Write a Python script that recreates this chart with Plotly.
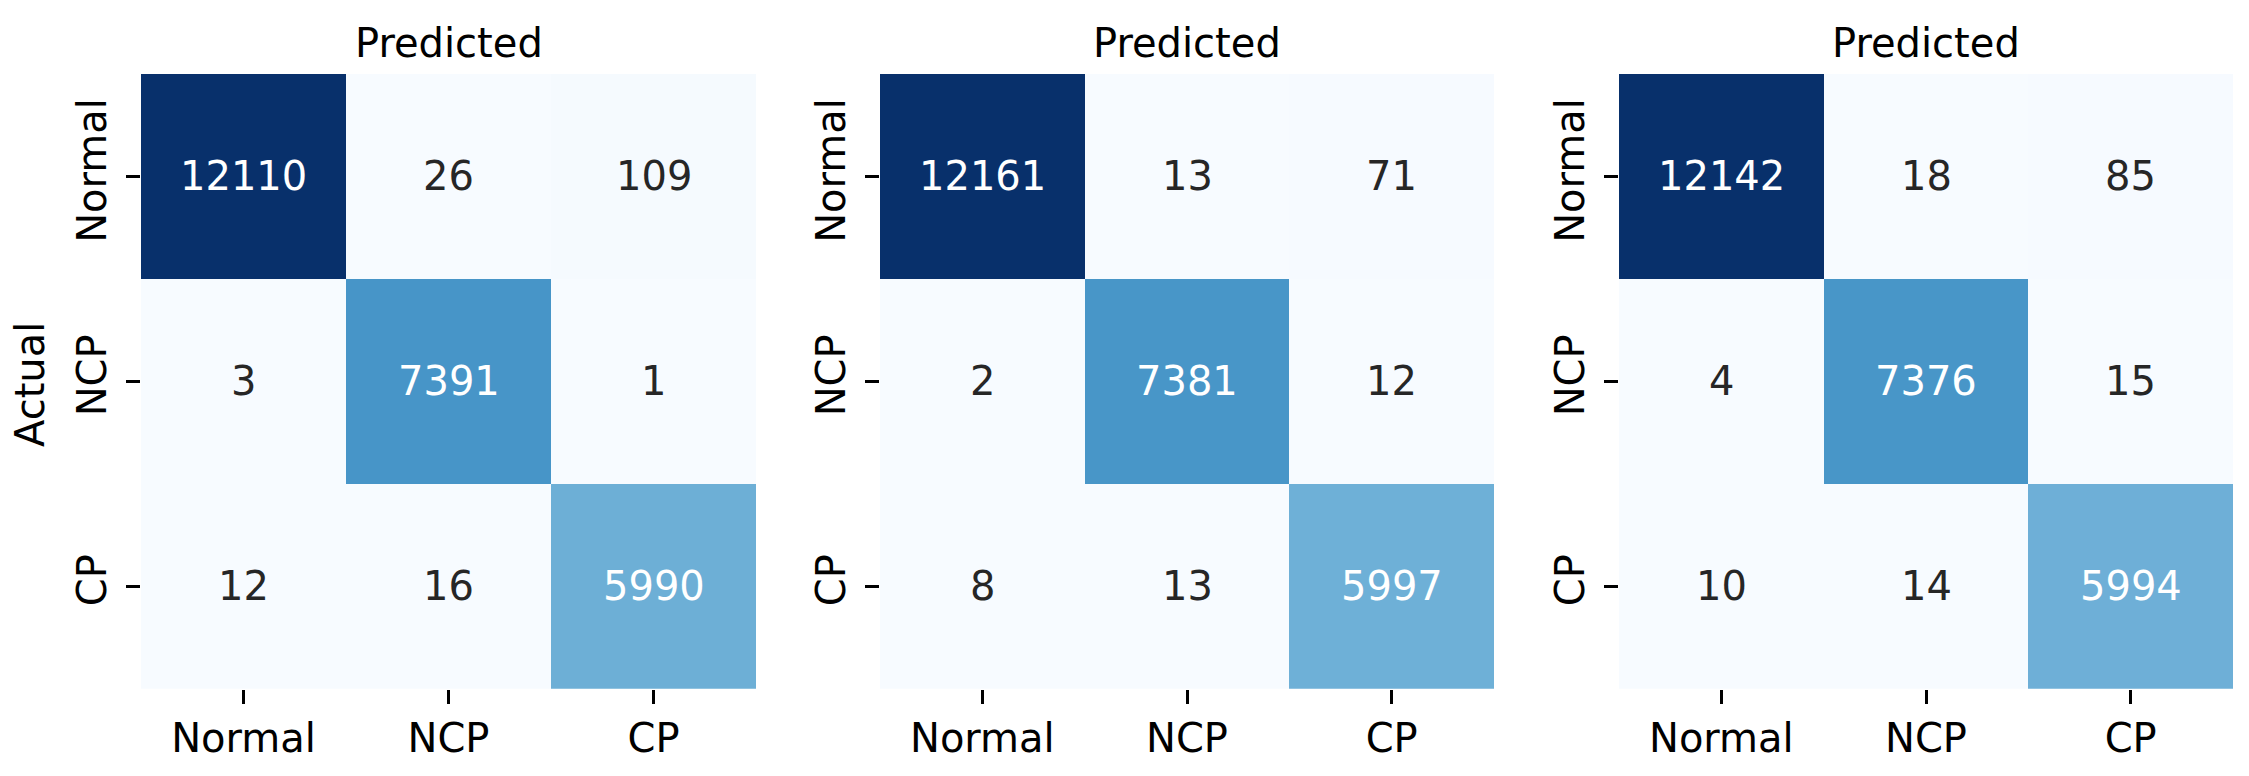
import plotly.graph_objects as go
from plotly.colors import sample_colorscale, sequential, unlabel_rgb

labels = ["Normal", "NCP", "CP"]

cm_1 = [[12110, 26, 109], [3, 7391, 1], [12, 16, 5990]]
cm_2 = [[12161, 13, 71], [2, 7381, 12], [8, 13, 5997]]
cm_3 = [[12142, 18, 85], [4, 7376, 15], [10, 14, 5994]]
matrices = [cm_1, cm_2, cm_3]

W, H = 2249, 776
FONT = "DejaVu Sans"
BLUES = sequential.Blues

# panel boxes in pixels (left, right), shared top/bottom
x_boxes = [(141, 756), (880, 1494), (1619, 2233)]
top_px, bottom_px = 74, 688.7


def _text_color(rgb: str) -> str:
    # seaborn style: dark text on light cells, white on dark cells
    r, g, b = [c / 255 for c in unlabel_rgb(rgb)]
    lin = [c / 12.92 if c <= 0.03928 else ((c + 0.055) / 1.055) ** 2.4 for c in (r, g, b)]
    lum = 0.2126 * lin[0] + 0.7152 * lin[1] + 0.0722 * lin[2]
    return "#262626" if lum > 0.408 else "#ffffff"


fig = go.Figure()
annotations = []
layout_axes = {}

for i, cm in enumerate(matrices):
    n = i + 1
    xa = "x" if n == 1 else f"x{n}"
    ya = "y" if n == 1 else f"y{n}"
    fig.add_trace(go.Heatmap(
        z=cm, x=labels, y=labels, xaxis=xa, yaxis=ya,
        colorscale="Blues", showscale=False, xgap=0, ygap=0,
        hoverinfo="skip",
    ))
    zmin = min(min(r) for r in cm)
    zmax = max(max(r) for r in cm)
    for r, row in enumerate(cm):
        for c, v in enumerate(row):
            t = (v - zmin) / (zmax - zmin)
            col = sample_colorscale(BLUES, [t])[0]
            annotations.append(dict(
                x=labels[c], y=labels[r], xref=xa, yref=ya, text=str(v),
                showarrow=False, font=dict(family=FONT, size=40, color=_text_color(col)),
            ))
    x0, x1 = x_boxes[i]
    key = "" if n == 1 else str(n)
    layout_axes[f"xaxis{key}"] = dict(
        domain=[x0 / W, x1 / W], anchor=ya, showgrid=False, zeroline=False,
        ticks="outside", ticklen=14, tickwidth=2.5, tickcolor="black",
        tickfont=dict(family=FONT, size=40, color="black"), showline=False,
        ticklabelstandoff=0,
    )
    layout_axes[f"yaxis{key}"] = dict(
        domain=[1 - bottom_px / H, 1 - top_px / H], anchor=xa,
        autorange="reversed", showgrid=False, zeroline=False,
        ticks="outside", ticklen=14, tickwidth=2.5, tickcolor="black",
        tickangle=-90, tickfont=dict(family=FONT, size=40, color="black"),
        showline=False, ticklabelstandoff=4,
    )
    annotations.append(dict(
        x=0.5, y=1 - 43 / H, xref=f"{xa} domain", yref="paper", text="Predicted",
        showarrow=False, yanchor="middle",
        font=dict(family=FONT, size=40, color="black"),
    ))

annotations.append(dict(
    x=30 / W, y=1 - 385 / H, xref="paper", yref="paper", text="Actual",
    textangle=-90, showarrow=False, xanchor="center", yanchor="middle",
    font=dict(family=FONT, size=40, color="black"),
))

fig.update_layout(
    width=W, height=H,
    margin=dict(l=0, r=0, t=0, b=0),
    plot_bgcolor="white", paper_bgcolor="white",
    annotations=annotations,
    **layout_axes,
)

fig.write_html(
    "out.html",
    config={"displayModeBar": False},
    post_script=["document.body.style.margin = '0'; document.body.style.overflow = 'hidden';"],
)
